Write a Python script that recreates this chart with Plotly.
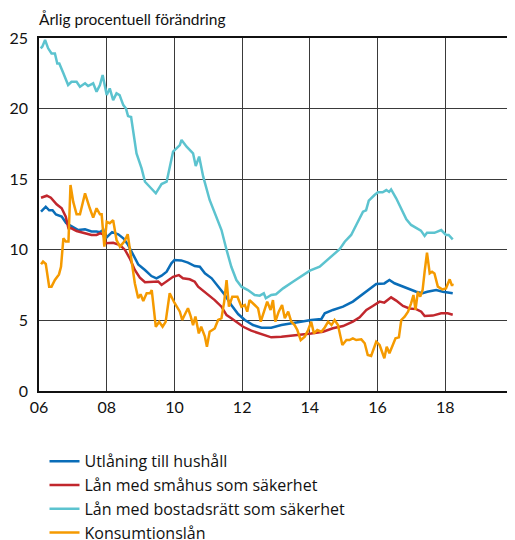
import plotly.graph_objects as go

# ---------------- data (decimal years, annual % change) ----------------
tick_vals = [2006, 2008, 2010, 2012, 2014, 2016, 2018]
tick_text = ["06", "08", "10", "12", "14", "16", "18"]
y_ticks = [0, 5, 10, 15, 20, 25]

names = ["Utlåning till hushåll", "Lån med småhus som säkerhet",
         "Lån med bostadsrätt som säkerhet", "Konsumtionslån"]
colors = ["#0a6db8", "#c1272d", "#5cc3cf", "#f59a00"]

hush_x = [2006.06, 2006.2, 2006.3, 2006.4, 2006.5, 2006.67, 2006.8, 2006.96, 2007.16, 2007.36,
          2007.55, 2007.7, 2007.8, 2007.9, 2007.97, 2008.05, 2008.16, 2008.34, 2008.5, 2008.63,
          2008.78, 2008.93, 2009.13, 2009.32, 2009.47, 2009.62, 2009.77, 2009.91, 2010.0, 2010.2,
          2010.4, 2010.6, 2010.75, 2010.9, 2011.1, 2011.29, 2011.49, 2011.68, 2011.88, 2012.08,
          2012.32, 2012.57, 2012.86, 2013.16, 2013.45, 2013.75, 2014.04, 2014.34, 2014.44, 2014.68,
          2014.98, 2015.27, 2015.52, 2015.76, 2015.96, 2016.2, 2016.35, 2016.5, 2016.75, 2016.94,
          2017.14, 2017.33, 2017.47, 2017.73, 2017.93, 2018.22]
hush_y = [12.7, 13.05, 12.8, 12.8, 12.5, 12.35, 11.9, 11.65, 11.4, 11.45,
          11.3, 11.3, 11.25, 11.4, 10.8, 11.0, 11.25, 11.1, 10.8, 10.35,
          9.6, 8.97, 8.57, 8.14, 7.98, 8.17, 8.45, 9.04, 9.28, 9.25,
          9.09, 8.85, 8.8, 8.33, 7.98, 7.39, 6.8, 6.09, 5.45, 5.03,
          4.67, 4.48, 4.48, 4.67, 4.79, 4.91, 5.03, 5.1, 5.5, 5.74,
          5.97, 6.33, 6.8, 7.2, 7.58, 7.62, 7.86, 7.63, 7.39, 7.2,
          7.03, 6.92, 7.03, 7.15, 7.03, 6.92]

smahus_x = [2006.06, 2006.23, 2006.35, 2006.52, 2006.67, 2006.79, 2006.87, 2006.96, 2007.11, 2007.36,
            2007.55, 2007.7, 2007.8, 2007.9, 2007.97, 2008.19, 2008.39, 2008.54, 2008.68, 2008.83,
            2008.98, 2009.13, 2009.32, 2009.52, 2009.62, 2009.81, 2009.96, 2010.13, 2010.25, 2010.45,
            2010.6, 2010.7, 2010.85, 2011.0, 2011.19, 2011.39, 2011.54, 2011.68, 2011.83, 2012.03,
            2012.27, 2012.57, 2012.86, 2013.16, 2013.45, 2013.75, 2014.04, 2014.39, 2014.68, 2014.98,
            2015.27, 2015.47, 2015.67, 2015.86, 2016.06, 2016.2, 2016.4, 2016.55, 2016.75, 2016.94,
            2017.14, 2017.29, 2017.39, 2017.63, 2017.88, 2018.07, 2018.22]
smahus_y = [13.69, 13.83, 13.69, 13.22, 12.94, 12.35, 11.52, 11.52, 11.33, 11.17,
            11.05, 11.05, 11.17, 11.1, 10.46, 10.5, 10.34, 9.99, 9.4, 8.57,
            8.03, 7.7, 7.74, 7.76, 7.51, 7.86, 8.09, 8.21, 7.98, 7.91,
            7.74, 7.39, 7.1, 6.87, 6.44, 5.97, 5.38, 5.15, 4.91, 4.55,
            4.27, 4.01, 3.8, 3.85, 3.92, 3.97, 4.08, 4.2, 4.44, 4.6,
            4.91, 5.22, 5.74, 6.02, 6.33, 6.26, 6.63, 6.4, 6.02, 5.85,
            5.8, 5.62, 5.31, 5.34, 5.5, 5.5, 5.4]

brf_x = [2006.05, 2006.1, 2006.18, 2006.27, 2006.37, 2006.47, 2006.54, 2006.6, 2006.72, 2006.86,
         2006.96, 2007.11, 2007.21, 2007.36, 2007.45, 2007.6, 2007.7, 2007.8, 2007.88, 2008.0,
         2008.09, 2008.19, 2008.29, 2008.38, 2008.49, 2008.57, 2008.63, 2008.72, 2008.88, 2009.03,
         2009.13, 2009.27, 2009.45, 2009.62, 2009.77, 2009.96, 2010.16, 2010.21, 2010.36, 2010.55,
         2010.63, 2010.73, 2010.85, 2011.04, 2011.24, 2011.39, 2011.54, 2011.68, 2011.83, 2011.98,
         2012.17, 2012.37, 2012.52, 2012.64, 2012.7, 2012.86, 2013.0, 2013.21, 2013.5, 2013.8,
         2014.0, 2014.29, 2014.58, 2014.88, 2015.03, 2015.22, 2015.37, 2015.57, 2015.66, 2015.74,
         2015.91, 2016.01, 2016.15, 2016.26, 2016.34, 2016.4, 2016.55, 2016.7, 2016.85, 2016.99,
         2017.19, 2017.28, 2017.39, 2017.46, 2017.68, 2017.88, 2018.02, 2018.1, 2018.22]
brf_y = [24.27, 24.4, 24.86, 24.27, 23.9, 23.9, 23.2, 23.2, 22.5, 21.67,
         21.9, 21.9, 21.55, 21.79, 21.6, 21.79, 21.2, 21.67, 22.38, 20.96,
         21.43, 20.6, 21.08, 20.96, 20.25, 20.0, 19.47, 19.4, 16.83, 15.77,
         14.82, 14.47, 14.0, 14.66, 14.82, 16.95, 17.42, 17.78, 17.3, 16.83,
         15.93, 16.6, 15.18, 13.53, 12.34, 11.4, 9.99, 8.8, 7.86, 7.39,
         7.15, 6.8, 6.75, 6.92, 6.57, 6.8, 6.85, 7.27, 7.74, 8.22,
         8.52, 8.8, 9.4, 10.05, 10.57, 11.05, 11.76, 12.7, 12.8, 13.48,
         13.88, 14.07, 14.07, 14.23, 14.1, 14.28, 13.65, 12.94, 12.16, 11.76,
         11.52, 11.36, 10.98, 11.2, 11.2, 11.4, 11.05, 11.05, 10.74]

kons_x = [2006.06, 2006.12, 2006.2, 2006.3, 2006.37, 2006.47, 2006.59, 2006.65, 2006.72, 2006.79,
          2006.87, 2006.93, 2007.01, 2007.11, 2007.21, 2007.36, 2007.5, 2007.6, 2007.7, 2007.8,
          2007.85, 2007.93, 2008.0, 2008.09, 2008.19, 2008.29, 2008.39, 2008.52, 2008.62, 2008.73,
          2008.83, 2008.93, 2009.0, 2009.08, 2009.18, 2009.28, 2009.33, 2009.45, 2009.55, 2009.65,
          2009.74, 2009.86, 2010.0, 2010.16, 2010.23, 2010.3, 2010.4, 2010.47, 2010.55, 2010.62,
          2010.72, 2010.79, 2010.9, 2010.96, 2011.04, 2011.19, 2011.29, 2011.39, 2011.47, 2011.54,
          2011.61, 2011.71, 2011.86, 2011.98, 2012.08, 2012.15, 2012.22, 2012.37, 2012.47, 2012.55,
          2012.65, 2012.74, 2012.84, 2012.91, 2012.98, 2013.08, 2013.18, 2013.26, 2013.36, 2013.45,
          2013.55, 2013.63, 2013.73, 2013.85, 2013.95, 2014.04, 2014.12, 2014.22, 2014.34, 2014.44,
          2014.54, 2014.64, 2014.73, 2014.83, 2014.96, 2015.08, 2015.17, 2015.27, 2015.37, 2015.52,
          2015.62, 2015.71, 2015.81, 2015.96, 2016.06, 2016.14, 2016.2, 2016.27, 2016.35, 2016.45,
          2016.53, 2016.63, 2016.7, 2016.8, 2016.9, 2016.99, 2017.06, 2017.12, 2017.19, 2017.26,
          2017.33, 2017.39, 2017.46, 2017.54, 2017.61, 2017.68, 2017.78, 2017.91, 2018.02, 2018.13,
          2018.2, 2018.22]
kons_y = [8.97, 9.16, 9.0, 7.39, 7.39, 7.86, 8.26, 8.8, 10.81, 10.58,
          10.58, 14.59, 13.41, 12.51, 12.51, 14.0, 12.94, 12.28, 12.94, 12.51,
          12.51, 10.22, 11.99, 11.88, 12.1, 10.69, 10.22, 10.58, 11.1, 9.4,
          7.63, 6.57, 6.85, 6.37, 6.92, 6.92, 7.15, 4.55, 4.9, 4.55,
          4.9, 6.92, 6.25, 5.62, 5.03, 5.38, 5.86, 5.38, 4.67, 5.27,
          4.08, 4.55, 3.85, 3.14, 4.2, 4.43, 5.03, 5.15, 6.33, 7.86,
          5.97, 6.68, 6.68, 5.97, 6.09, 5.62, 6.44, 6.09, 5.86, 4.91,
          5.62, 6.33, 5.74, 6.44, 4.91, 5.62, 6.09, 5.15, 5.62, 4.91,
          4.67, 4.32, 3.61, 3.85, 4.32, 4.91, 4.08, 4.32, 4.2, 4.5,
          4.91, 4.67, 5.03, 4.67, 3.26, 3.61, 3.61, 3.73, 3.61, 3.66,
          3.38, 2.55, 2.48, 3.49, 3.26, 2.67, 2.32, 3.14, 2.67, 3.26,
          3.73, 3.8, 5.03, 5.27, 5.62, 6.21, 6.8, 5.74, 7.03, 6.68,
          7.15, 8.45, 9.8, 8.33, 8.45, 8.33, 7.39, 7.2, 7.27, 7.91,
          7.44, 7.62]

series_x = [hush_x, smahus_x, brf_x, kons_x]
series_y = [hush_y, smahus_y, brf_y, kons_y]

FONT = "Lato"
LEG_FONT = "Open Sans"

fig = go.Figure()
for i, (xs, ys) in enumerate(zip(series_x, series_y)):
    fig.add_trace(go.Scatter(
        x=xs, y=ys, mode="lines", name=names[i], legendgroup=f"g{i}",
        line=dict(color=colors[i], width=2.5),
    ))

grid_col = "#3a3a3a"
fig.update_layout(
    width=507, height=532,
    margin=dict(l=31, r=2, t=30, b=149, autoexpand=False),
    paper_bgcolor="white", plot_bgcolor="white",
    font=dict(family=FONT, size=16, color="#111111"),
    showlegend=True,
    legend=dict(
        orientation="v", xref="container", yref="container",
        x=0.072, xanchor="left", y=0.18, yanchor="top",
        font=dict(family=LEG_FONT, size=16, color="#111111"),
        tracegroupgap=0, bgcolor="rgba(0,0,0,0)",
    ),
    annotations=[dict(
        text="Årlig procentuell förändring", xref="paper", yref="paper",
        x=0, y=1, xanchor="left", yanchor="bottom", yshift=8, xshift=-2,
        showarrow=False, font=dict(family=FONT, size=15.5, color="#111111"),
    )],
)
fig.update_xaxes(
    range=[2006, 2020], tickvals=tick_vals, ticktext=tick_text,
    showgrid=True, gridcolor=grid_col, gridwidth=1,
    showline=True, linecolor="#111111", linewidth=1.5, mirror=True,
    ticks="", zeroline=False, tickfont=dict(size=16),
    automargin=False, ticklabelstandoff=1,
)
fig.update_yaxes(
    range=[0, 25], tickvals=y_ticks,
    showgrid=True, gridcolor=grid_col, gridwidth=1,
    showline=True, linecolor="#111111", linewidth=1.5, mirror=True,
    ticks="", zeroline=False, tickfont=dict(size=16),
    automargin=False, ticklabelstandoff=6,
)

fig.write_html("out.html")
